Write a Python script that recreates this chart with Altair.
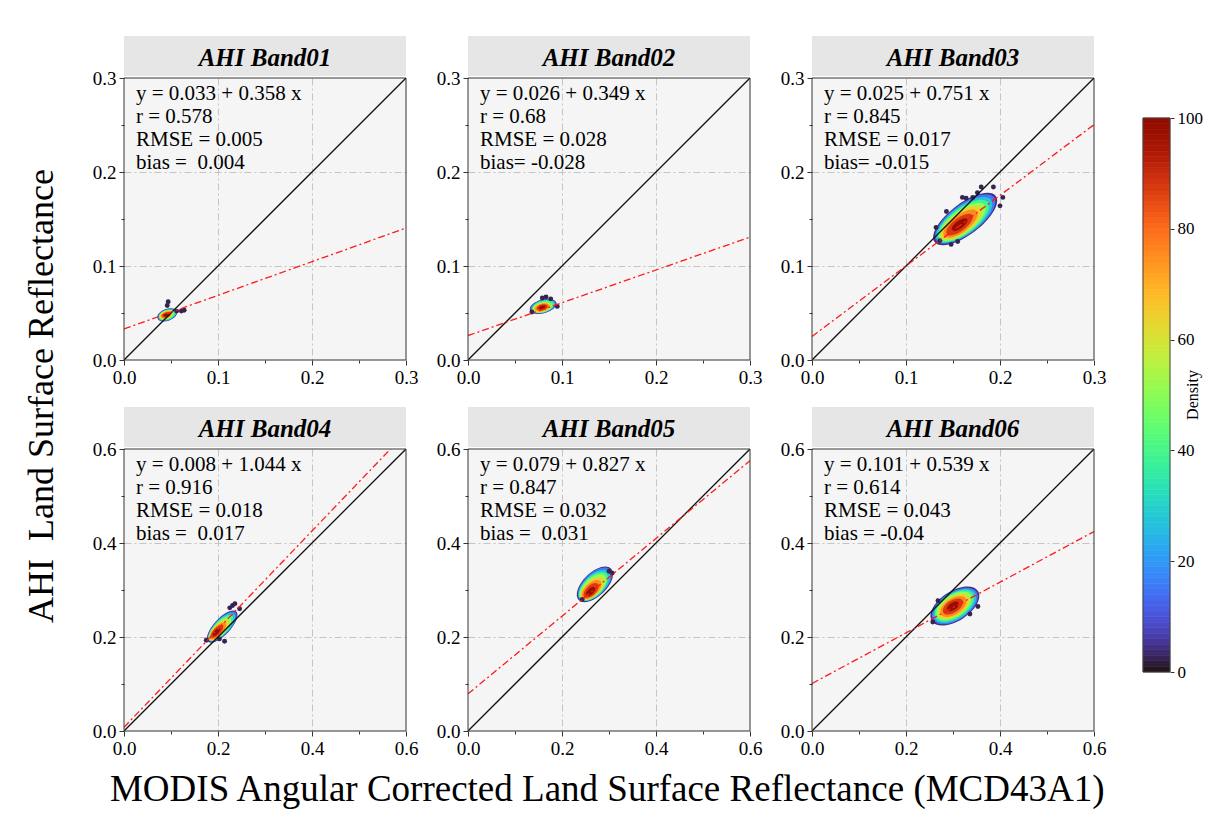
import altair as alt
import pandas as pd

SERIF = "Liberation Serif"

# ---------------- data ----------------
BAND_NAMES = ["AHI Band01", "AHI Band02", "AHI Band03", "AHI Band04", "AHI Band05", "AHI Band06"]
AXIS_MAX = [0.3, 0.3, 0.3, 0.6, 0.6, 0.6]
MAJOR_STEP = [0.1, 0.1, 0.1, 0.2, 0.2, 0.2]
TICKS_TOP = [0.0, 0.05, 0.1, 0.15, 0.2, 0.25, 0.3]
TICKS_BOTTOM = [0.0, 0.1, 0.2, 0.3, 0.4, 0.5, 0.6]
INTERCEPT = [0.033, 0.026, 0.025, 0.008, 0.079, 0.101]
SLOPE = [0.358, 0.349, 0.751, 1.044, 0.827, 0.539]
EQ_TEXT = ["y = 0.033 + 0.358 x", "y = 0.026 + 0.349 x", "y = 0.025 + 0.751 x",
           "y = 0.008 + 1.044 x", "y = 0.079 + 0.827 x", "y = 0.101 + 0.539 x"]
R_TEXT = ["r = 0.578", "r = 0.68", "r = 0.845", "r = 0.916", "r = 0.847", "r = 0.614"]
RMSE_TEXT = ["RMSE = 0.005", "RMSE = 0.028", "RMSE = 0.017", "RMSE = 0.018", "RMSE = 0.032", "RMSE = 0.043"]
BIAS_TEXT = ["bias =\u00a0 0.004", "bias= -0.028", "bias= -0.015",
             "bias =\u00a0 0.017", "bias =\u00a0 0.031", "bias = -0.04"]
Y_TITLE = "AHI\u00a0 Land Surface Reflectance"
X_TITLE = "MODIS Angular Corrected Land Surface Reflectance (MCD43A1)"

# density contour levels of each point cloud, with the centre of each level
DENSITY_LEVELS = [4, 15, 27, 39, 51, 63, 75, 87, 98]
CLOUD_X = [
    [0.046, 0.046, 0.046, 0.046, 0.045, 0.045, 0.045, 0.045, 0.045],
    [0.080, 0.080, 0.080, 0.080, 0.079, 0.079, 0.079, 0.079, 0.079],
    [0.163, 0.163, 0.162, 0.161, 0.160, 0.159, 0.158, 0.157, 0.157],
    [0.209, 0.209, 0.208, 0.206, 0.204, 0.202, 0.200, 0.198, 0.197],
    [0.270, 0.270, 0.269, 0.267, 0.266, 0.264, 0.263, 0.262, 0.261],
    [0.304, 0.304, 0.304, 0.303, 0.302, 0.302, 0.301, 0.300, 0.300],
]
CLOUD_Y = [
    [0.048, 0.048, 0.048, 0.048, 0.048, 0.048, 0.048, 0.048, 0.048],
    [0.057, 0.057, 0.057, 0.057, 0.056, 0.056, 0.056, 0.056, 0.056],
    [0.150, 0.150, 0.149, 0.148, 0.147, 0.146, 0.145, 0.144, 0.144],
    [0.222, 0.222, 0.221, 0.219, 0.217, 0.215, 0.213, 0.212, 0.211],
    [0.312, 0.312, 0.310, 0.308, 0.306, 0.303, 0.301, 0.299, 0.297],
    [0.266, 0.266, 0.266, 0.266, 0.266, 0.265, 0.265, 0.265, 0.265],
]
# sparse low-density points around the clouds
OUT_X = [
    [0.046, 0.047, 0.056, 0.061, 0.064],
    [0.079, 0.088, 0.083, 0.068, 0.095],
    [0.180, 0.193, 0.203, 0.200, 0.160, 0.164, 0.171, 0.132, 0.136, 0.148, 0.155, 0.176, 0.143],
    [0.231, 0.246, 0.236, 0.203, 0.214, 0.175, 0.225],
    [0.300, 0.243, 0.307],
    [0.268, 0.257, 0.353, 0.336],
]
OUT_Y = [
    [0.058, 0.062, 0.052, 0.052, 0.053],
    [0.066, 0.065, 0.067, 0.051, 0.057],
    [0.184, 0.184, 0.173, 0.164, 0.173, 0.172, 0.173, 0.141, 0.127, 0.123, 0.126, 0.178, 0.158],
    [0.267, 0.260, 0.271, 0.196, 0.191, 0.193, 0.262],
    [0.340, 0.280, 0.336],
    [0.277, 0.232, 0.265, 0.249],
]
OUT_DENSITY = 2
COLORBAR_TICKS = [0, 20, 40, 60, 80, 100]
COLORBAR_STEPS = list(range(0, 100))

# ---------------- styles ----------------
W = 282
CLOUD_LEN = [21, 28, 78, 42, 46, 56]          # px, major axis of outer contour
CLOUD_RATIO = [0.57, 0.5, 0.41, 0.4, 0.52, 0.54]
CLOUD_ANGLE = [340, 345, 323, 313, 316, 327]
NO_FRAME = alt.ViewBackground(strokeOpacity=0, fillOpacity=0)

color_scale = alt.Scale(scheme="turbo", domain=[0, 100])


def ellipse_path(r):
    c = 0.5523
    cr = c * r
    return (f"M -1 0 C -1 {-cr:.4f} {-c} {-r:.4f} 0 {-r:.4f} "
            f"C {c} {-r:.4f} 1 {-cr:.4f} 1 0 "
            f"C 1 {cr:.4f} {c} {r:.4f} 0 {r:.4f} "
            f"C {-c} {r:.4f} -1 {cr:.4f} -1 0 Z")


def make_panel(i):
    m = AXIS_MAX[i]
    st = MAJOR_STEP[i]
    ticks = TICKS_TOP if i < 3 else TICKS_BOTTOM
    major = f"abs(datum.value / {st} - round(datum.value / {st})) < 0.001"
    inner = f"({major}) && datum.value > 0.001 && datum.value < {m - 0.001}"
    ax = dict(values=ticks, title=None, labelFont=SERIF, labelFontSize=19,
              labelExpr=f"({major}) ? format(datum.value, '.1f') : ''",
              labelColor="black", tickColor="#333", tickWidth=1,
              tickSize={"condition": {"test": major, "value": 5}, "value": 3},
              domain=False, grid=True, gridColor="#c4c4c4", gridDash=[7, 3, 2, 3], gridWidth=1,
              gridOpacity={"condition": {"test": inner, "value": 1}, "value": 0},
              labelFlush=False, labelPadding=3)
    xs = alt.X("x:Q", scale=alt.Scale(domain=[0, m], nice=False, zero=False), axis=alt.Axis(**ax))
    ys = alt.Y("y:Q", scale=alt.Scale(domain=[0, m], nice=False, zero=False), axis=alt.Axis(**ax))

    L = CLOUD_LEN[i]
    cloud_df = pd.DataFrame({"x": CLOUD_X[i], "y": CLOUD_Y[i], "d": DENSITY_LEVELS})
    cloud = alt.Chart(cloud_df).mark_point(
        shape=ellipse_path(CLOUD_RATIO[i]), filled=True, opacity=1,
        angle=CLOUD_ANGLE[i], strokeWidth=0
    ).encode(
        x=xs, y=ys,
        color=alt.Color("d:Q", scale=color_scale, legend=None),
        size=alt.Size("d:Q", scale=alt.Scale(domain=[0, 100], range=[L * L, (0.2 * L) ** 2]), legend=None),
        order=alt.Order("d:Q", sort="ascending"),
    )

    out_df = pd.DataFrame({"x": OUT_X[i], "y": OUT_Y[i], "d": [OUT_DENSITY] * len(OUT_X[i])})
    outl = alt.Chart(out_df).mark_circle(size=24, opacity=1).encode(
        x=xs, y=ys, color=alt.Color("d:Q", scale=color_scale, legend=None))

    one_df = pd.DataFrame({"x": [0, m], "y": [0, m]})
    one = alt.Chart(one_df).mark_line(color="#111", strokeWidth=1.3, clip=True).encode(x=xs, y=ys)

    reg_df = pd.DataFrame({"x": [0, m], "y": [INTERCEPT[i], INTERCEPT[i] + SLOPE[i] * m]})
    reg = alt.Chart(reg_df).mark_line(color="#ff1a1a", strokeWidth=1.3, strokeDash=[7, 3, 2, 3],
                                      clip=True).encode(x=xs, y=ys)

    stats_df = pd.DataFrame({"t": ["\n".join([EQ_TEXT[i], R_TEXT[i], RMSE_TEXT[i], BIAS_TEXT[i]])]})
    stats = alt.Chart(stats_df).mark_text(
        font=SERIF, fontSize=21, align="left", baseline="top", lineBreak="\n",
        lineHeight=23, color="black"
    ).encode(text="t:N", x=alt.value(12), y=alt.value(5))

    frame = alt.Chart(stats_df).mark_rect(fillOpacity=0, stroke="#333", strokeWidth=1).encode(
        x=alt.value(0), x2=alt.value(W), y=alt.value(0), y2=alt.value(W))

    plot = alt.layer(cloud, outl, one, reg, stats, frame).properties(
        width=W, height=W,
        view=alt.ViewBackground(fill="#f5f5f5", strokeOpacity=0))

    strip_df = pd.DataFrame({"t": [BAND_NAMES[i]]})
    strip_bg = alt.Chart(strip_df).mark_rect(color="#e6e6e6").encode(
        x=alt.value(0), x2=alt.value(W), y=alt.value(0), y2=alt.value(40))
    strip_tx = alt.Chart(strip_df).mark_text(
        font=SERIF, fontSize=25, fontWeight="bold", fontStyle="italic", color="black"
    ).encode(text="t:N", x=alt.value(W / 2), y=alt.value(22))
    strip = alt.layer(strip_bg, strip_tx).properties(width=W, height=40, view=NO_FRAME)

    return alt.vconcat(strip, plot, spacing=2, bounds="flush").resolve_scale(size="independent")


row1 = alt.hconcat(*[make_panel(i) for i in range(3)], spacing=18).resolve_scale(size="independent")
row2 = alt.hconcat(*[make_panel(i) for i in range(3, 6)], spacing=18).resolve_scale(size="independent")
grid = alt.vconcat(row1, row2, spacing=20).resolve_scale(size="independent")

ytitle = alt.Chart(pd.DataFrame({"t": [Y_TITLE]})).mark_text(
    angle=270, font=SERIF, fontSize=36, color="black"
).encode(text="t:N", x=alt.value(30), y=alt.value(360)).properties(width=65, height=695, view=NO_FRAME)

cb_df = pd.DataFrame({"d": COLORBAR_STEPS, "d2": [v + 1 for v in COLORBAR_STEPS]})
cb_y = alt.Y("d:Q", scale=alt.Scale(domain=[0, 100], range=[636, 82], nice=False, zero=False),
             axis=alt.Axis(orient="right", values=COLORBAR_TICKS, title=None, labelFont=SERIF,
                           labelFontSize=17, labelColor="black", tickSize=4, tickColor="#333",
                           domain=False, grid=False, labelPadding=3))
cb_bar = alt.Chart(cb_df).mark_rect(strokeWidth=0.6).encode(
    x=alt.value(22), x2=alt.value(49), y=cb_y, y2="d2:Q",
    color=alt.Color("d:Q", scale=color_scale, legend=None),
    stroke=alt.Stroke("d:Q", scale=color_scale, legend=None))
cb_frame = alt.Chart(pd.DataFrame({"a": [0]})).mark_rect(
    fillOpacity=0, stroke="#444", strokeWidth=1
).encode(x=alt.value(22), x2=alt.value(49), y=alt.datum(0), y2=alt.datum(100))
cb_title = alt.Chart(pd.DataFrame({"t": ["Density"]})).mark_text(
    angle=270, font=SERIF, fontSize=16, color="black"
).encode(text="t:N", x=alt.value(72), y=alt.value(359))
cbar = alt.layer(cb_bar, cb_frame, cb_title).properties(width=49, height=695, view=NO_FRAME)

chart = alt.hconcat(ytitle, grid, cbar, spacing=15).resolve_scale(
    size="independent"
).properties(
    title=alt.TitleParams(X_TITLE, orient="bottom", anchor="middle", font=SERIF, fontSize=37,
                          fontWeight="normal", color="black", offset=14),
    padding={"left": 12, "top": 36, "right": 5, "bottom": 5},
).configure_view(stroke="transparent").configure(background="white")

chart.save("out.html", embed_options={"renderer": "svg", "actions": False})
